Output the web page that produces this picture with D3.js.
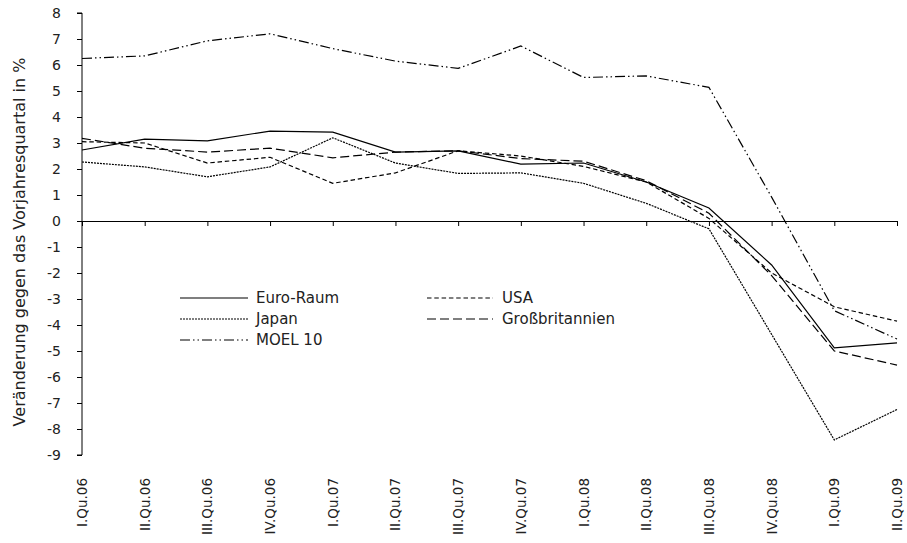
<!DOCTYPE html>
<html>
<head>
<meta charset="utf-8">
<script src="https://cdn.jsdelivr.net/npm/d3@7"></script>
<style>
  body { margin: 0; background: #fff; }
  svg { display: block; font-family: "DejaVu Sans", sans-serif; }
  text { fill: #222; }
</style>
</head>
<body>
<svg id="chart" width="907" height="543"></svg>
<script>
const quarters = ['I.Qu.06', 'II.Qu.06', 'III.Qu.06', 'IV.Qu.06', 'I.Qu.07', 'II.Qu.07', 'III.Qu.07',
  'IV.Qu.07', 'I.Qu.08', 'II.Qu.08', 'III.Qu.08', 'IV.Qu.08', 'I.Qu.09', 'II.Qu.09'];
const yTicks = [8, 7, 6, 5, 4, 3, 2, 1, 0, -1, -2, -3, -4, -5, -6, -7, -8, -9];

const euroRaum = [2.73, 3.15, 3.08, 3.46, 3.42, 2.65, 2.7, 2.19, 2.23, 1.5, 0.5, -1.69, -4.88, -4.69];
const usa = [3.05, 3.0, 2.23, 2.45, 1.45, 1.85, 2.7, 2.5, 2.1, 1.5, 0.1, -2.0, -3.3, -3.85];
const japan = [2.27, 2.08, 1.7, 2.08, 3.2, 2.23, 1.83, 1.85, 1.45, 0.68, -0.3, -4.36, -8.42, -7.25];
const grossbritannien = [3.18, 2.8, 2.65, 2.8, 2.43, 2.65, 2.7, 2.4, 2.3, 1.55, 0.3, -2.1, -5.0, -5.54];
const moel10 = [6.25, 6.35, 6.93, 7.2, 6.63, 6.15, 5.87, 6.73, 5.52, 5.58, 5.14, 0.92, -3.45, -4.54];

const series = [
  { name: 'Euro-Raum', values: euroRaum, dash: null, col: 0, row: 0 },
  { name: 'USA', values: usa, dash: '4.5,2.8', col: 1, row: 0 },
  { name: 'Japan', values: japan, dash: '2,1', col: 0, row: 1 },
  { name: 'Großbritannien', values: grossbritannien, dash: '9,4', col: 1, row: 1 },
  { name: 'MOEL 10', values: moel10, dash: '10,3,1.5,3,1.5,3', col: 0, row: 2 },
];

const svg = d3.select('#chart');
const plot = { left: 82, right: 897, top: 13, bottom: 455 };

const x = d3.scalePoint().domain(quarters).range([plot.left, plot.right]);
const y = d3.scaleLinear().domain([-9, 8]).range([plot.bottom, plot.top]);

// y axis (plain hyphen for negatives, like the original)
const yAxis = svg.append('g')
  .attr('transform', `translate(${plot.left},0)`)
  .call(d3.axisLeft(y).tickValues(yTicks).tickSize(5).tickPadding(16).tickFormat(d => String(d)));
yAxis.selectAll('path, line').attr('stroke', '#000');
yAxis.select('.domain').attr('d', `M-5,${plot.bottom}H0V${plot.top}H-5`);
yAxis.selectAll('text').attr('font-size', 14).attr('font-family', '"DejaVu Sans", sans-serif').style('fill', '#222');

// x axis on the zero line
const xAxis = svg.append('g')
  .attr('transform', `translate(0,${y(0)})`)
  .call(d3.axisBottom(x).tickSize(5).tickSizeOuter(0));
xAxis.selectAll('path, line').attr('stroke', '#000');
xAxis.selectAll('text').remove();

// category labels below the plot
svg.append('g').selectAll('text')
  .data(quarters)
  .join('text')
  .attr('transform', d => `translate(${x(d) + 5},478) rotate(-90)`)
  .attr('text-anchor', 'end')
  .attr('font-size', 13.5)
  .text(d => d);

// y title
svg.append('text')
  .attr('transform', `translate(25,${(plot.top + plot.bottom) / 2 + 8}) rotate(-90)`)
  .attr('text-anchor', 'middle')
  .attr('font-size', 16)
  .text('Veränderung gegen das Vorjahresquartal in %');

// lines
const line = d3.line().x((d, i) => x(quarters[i])).y(d => y(d));
svg.append('g').selectAll('path')
  .data(series)
  .join('path')
  .attr('d', d => line(d.values))
  .attr('fill', 'none')
  .attr('stroke', '#000')
  .attr('stroke-width', 1.2)
  .attr('stroke-dasharray', d => d.dash);

// legend
const legend = svg.append('g').selectAll('g')
  .data(series)
  .join('g')
  .attr('transform', d => `translate(${d.col ? 427 : 180},${298 + d.row * 21})`);
legend.append('line')
  .attr('x1', 0).attr('x2', d => d.col ? 66 : 68)
  .attr('stroke', '#000').attr('stroke-width', 1.2)
  .attr('stroke-dasharray', d => d.dash);
legend.append('text')
  .attr('x', d => d.col ? 75 : 76)
  .attr('dy', '0.35em')
  .attr('font-size', 15)
  .text(d => d.name);
</script>
</body>
</html>
